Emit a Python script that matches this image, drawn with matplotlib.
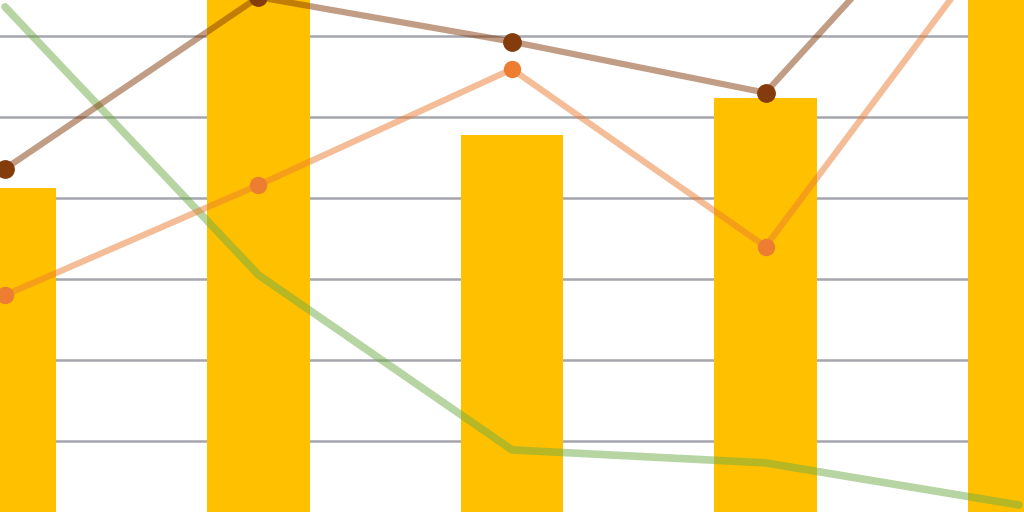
import numpy as np
import matplotlib
matplotlib.use("Agg")
import matplotlib.pyplot as plt

# categories and series (units = gridline steps)
categories = ["A", "B", "C", "D", "E"]
bar_values = [4.12, 7.0, 4.78, 5.23, 7.2]
brown_values = [4.36, 6.48, 5.93, 5.30, 8.73]
orange_values = [2.80, 4.16, 5.59, 3.40, 7.58]
green_values = [6.36, 3.05, 0.89, 0.73, 0.21]

x = np.arange(len(categories))

fig = plt.figure(figsize=(10.24, 5.12), dpi=100)
ax = fig.add_axes([0, 0, 1, 1])

# gridlines behind everything
for g in range(1, 7):
    ax.axhline(g, color="#A5A6AE", linewidth=1.8, zorder=0)

ax.bar(x, bar_values, width=0.406, color="#FFC000", zorder=1)

ax.plot(x, green_values, color="#70AD47", alpha=0.5, linewidth=5.5,
        solid_capstyle="round", solid_joinstyle="round", zorder=2)
ax.plot(x, orange_values, color="#ED7D31", alpha=0.5, linewidth=4.5,
        solid_capstyle="round", zorder=3)
ax.plot(x, orange_values, linestyle="none", marker="o", markersize=11.5,
        color="#ED7D31", zorder=4)
ax.plot(x, brown_values, color="#843C0C", alpha=0.5, linewidth=4.5,
        solid_capstyle="round", zorder=3)
ax.plot(x, brown_values, linestyle="none", marker="o", markersize=12.5,
        color="#843C0C", zorder=4)

ax.set_xlim(-0.0197, 4.0197)
ax.set_ylim(10 / 81, 522 / 81)
ax.axis("off")

fig.savefig("out.png", dpi=100)
